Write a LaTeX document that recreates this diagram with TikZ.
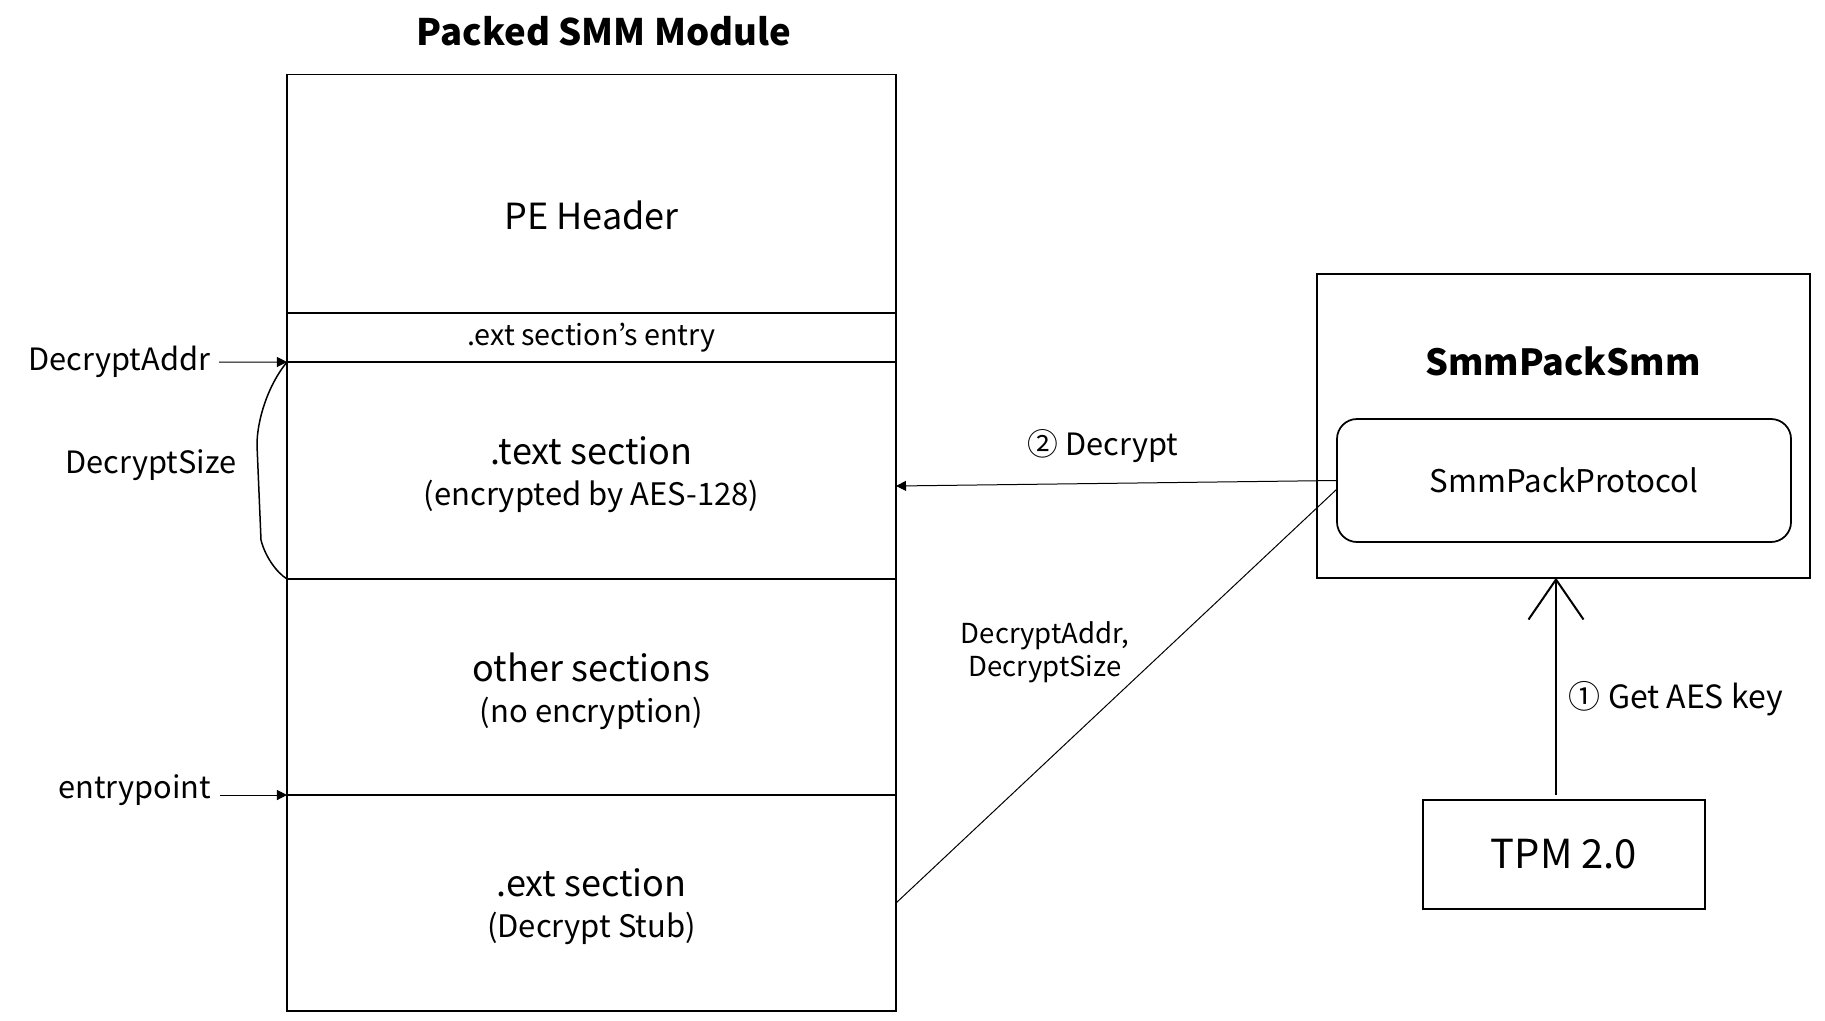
\documentclass[tikz,border=0pt]{standalone}
\usepackage{fontspec}
\setmainfont{Noto Sans CJK JP}
\usetikzlibrary{positioning,arrows.meta}
\newcommand{\subtxt}[1]{{\fontsize{12.4}{16.4}\selectfont #1}}

\begin{document}
\begin{tikzpicture}[x=0.4pt,y=-0.4pt,
  blk/.style={draw,line width=0.7pt,inner sep=0pt,outer sep=0pt,align=center},
  sec/.style={blk,minimum width=243.6pt},
  sectxt/.style={align=center,font=\fontsize{14.4}{16.4}\selectfont},
  lbl/.style={font=\fontsize{12.3}{14}\selectfont},
  tip/.style={-{Triangle[length=4pt,width=4pt]},line width=0.4pt}]
  \useasboundingbox (0,0) rectangle (1825,1020);
  \node[font=\fontsize{14.6}{18}\selectfont\bfseries] (title) at (604,31) {Packed SMM Module};
  % module sections, top to bottom
  \node[sec,minimum height=95.4pt,anchor=north] (hdr) at (591.5,74.5) {};
  \node[sec,minimum height=19.6pt,below=0pt of hdr,font=\fontsize{11.5}{14}\selectfont] (entry) {.ext section’s entry};
  \node[sec,minimum height=86.8pt,below=0pt of entry] (txt) {};
  \node[sec,minimum height=86.4pt,below=0pt of txt] (other) {};
  \node[sec,minimum height=86.4pt,below=0pt of other] (ext) {};
  \node[sectxt] (hdrtxt) at ([yshift=-8.8pt]hdr.center) {PE Header};
  \node[sectxt] (txttxt) at ([yshift=-1.8pt]txt.center) {.text section\\\subtxt{(encrypted by AES-128)}};
  \node[sectxt] (othertxt) at ([yshift=-1.8pt]other.center) {other sections\\\subtxt{(no encryption)}};
  \node[sectxt] (exttxt) at ([yshift=-1.6pt]ext.center) {.ext section\\\subtxt{(Decrypt Stub)}};
  % left labels
  \node[lbl,anchor=east] (daddr) at (219,362) {DecryptAddr};
  \draw[tip] (daddr.east) -- (txt.north west);
  \node[lbl] (dsize) at (151,465) {DecryptSize};
  \draw[line width=0.6pt] (txt.north west) .. controls (268,385) and (257,420) .. (257,445)
    -- (261,540) .. controls (265,556) and (276,572) .. (txt.south west);
  \node[lbl,anchor=east] (epoint) at (220,790) {entrypoint};
  \draw[tip] (epoint.east |- other.south west) -- (other.south west);
  % right side
  \node[blk,minimum width=197.2pt,minimum height=121.4pt] (smm) at (1563.5,426) {};
  \node[font=\fontsize{14.4}{18}\selectfont\bfseries] (smmtitle) at (1563,361) {SmmPackSmm};
  \node[blk,rounded corners=8pt,minimum width=181.6pt,minimum height=49.2pt,font=\fontsize{12.5}{15}\selectfont] (proto) at (1564,480.5) {SmmPackProtocol};
  \node[blk,minimum width=112.8pt,minimum height=43.6pt,font=\fontsize{16}{19}\selectfont] (tpm) at (1564,854.5) {TPM 2.0};
  \draw[tip] (proto.west) -- ([yshift=-6.2pt]txt.east);
  \node[lbl] (declbl) at (1103,446) {② Decrypt};
  \draw[line width=0.4pt] (ext.east) -- ([yshift=-3.4pt]proto.west);
  \node[font=\fontsize{11}{13.2}\selectfont,align=center] (args) at (1045,652) {DecryptAddr,\\DecryptSize};
  \coordinate (keybot) at ([xshift=-3.2pt,yshift=2pt]tpm.north);
  \draw[line width=0.8pt,-{Straight Barb[length=16pt,width=22pt]}] (keybot) -- (keybot |- smm.south);
  \node[lbl,anchor=west,font=\fontsize{12.8}{15}\selectfont] (keylbl) at (1560,699) {① Get AES key};
\end{tikzpicture}
\end{document}
